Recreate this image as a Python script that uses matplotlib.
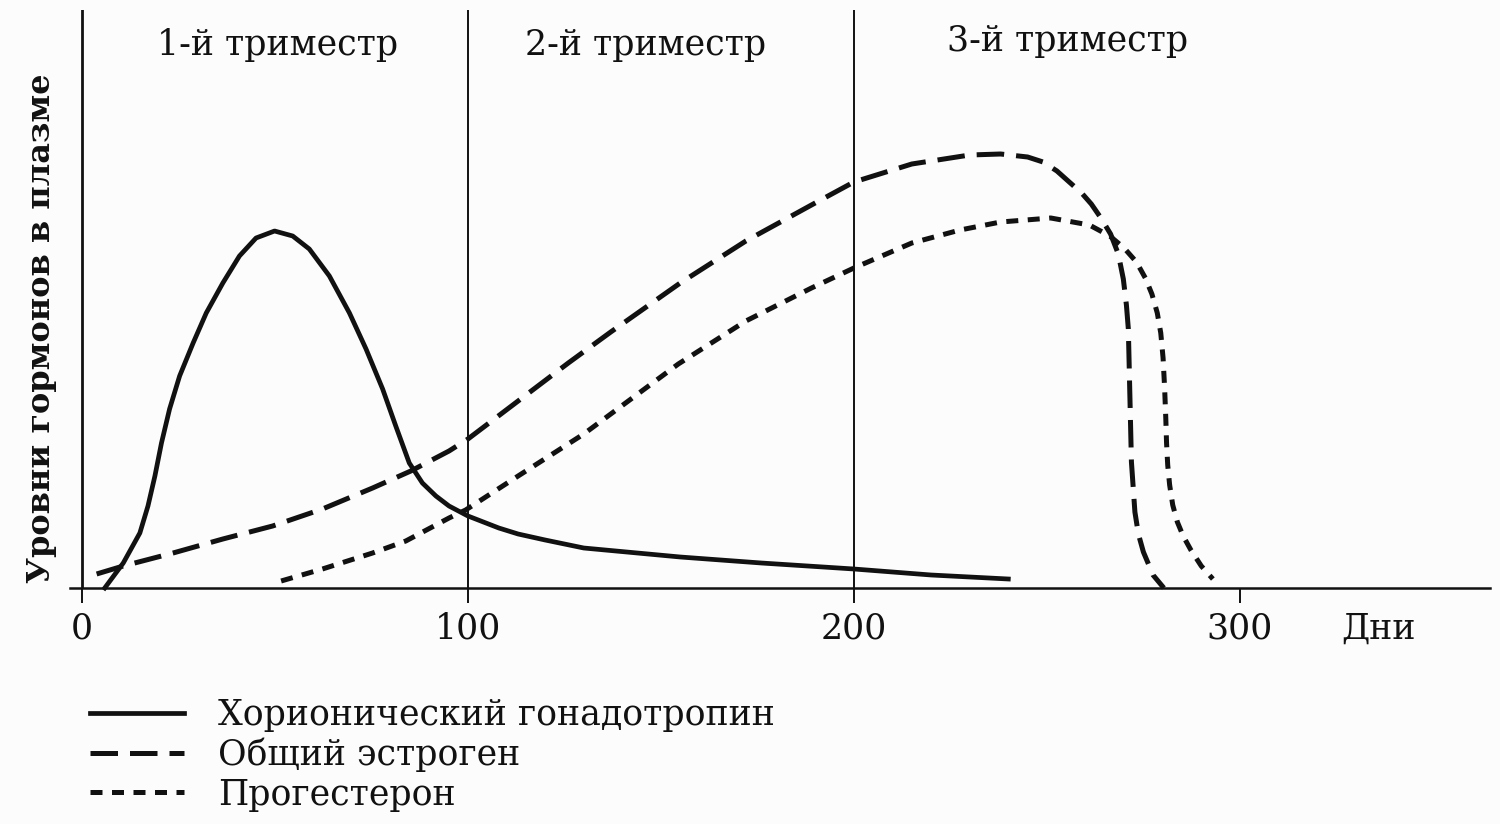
import matplotlib
matplotlib.use("Agg")
import matplotlib.pyplot as plt

# levels are in arbitrary units
days_hcg = [5.9, 10.7, 15.0, 17.1, 18.9, 20.6, 22.7, 25.3, 28.8, 32.2, 36.5, 40.8, 45.1,
            49.9, 54.6, 58.9, 64.1, 69.3, 73.6, 77.9, 81.3, 84.8, 88.2, 91.7, 95.1, 100,
            108, 113, 120, 130, 155, 176, 200, 220, 240]
level_hcg = [0, 2.5, 5.5, 8.2, 11.2, 14.5, 17.9, 21.2, 24.5, 27.5, 30.5, 33.2, 35.0,
             35.7, 35.2, 33.9, 31.2, 27.5, 23.9, 19.9, 16.2, 12.5, 10.5, 9.2, 8.2, 7.2,
             6.0, 5.4, 4.8, 4.0, 3.1, 2.5, 1.9, 1.3, 0.9]

days_estr = [3.8, 10.7, 23.6, 36.5, 49.4, 62.3, 75.3, 85.2, 95.1, 100, 113, 126, 137,
             155, 172, 189, 200, 215, 230, 238, 245, 249, 252.6, 255.5, 259, 261.5, 264,
             266.5, 268.5, 269.8, 270.6, 271.1, 271.5, 271.9, 272.8, 273.7, 275, 277.5,
             280.3]
level_estr = [1.4, 2.2, 3.5, 4.9, 6.2, 7.9, 10.0, 11.7, 13.7, 14.9, 18.7, 22.5, 25.6,
              30.5, 34.7, 38.3, 40.6, 42.4, 43.3, 43.4, 43.1, 42.6, 41.7, 40.7, 39.5,
              38.4, 37.0, 35.4, 33.4, 30.9, 28.3, 25.9, 19.2, 12.6, 7.6, 5.4, 3.6, 1.3, 0]

days_prog = [51.6, 62.3, 75.3, 83.9, 95.1, 99.4, 113, 130, 154.5, 172, 189, 200, 215,
             227.5, 238, 251, 261, 266.3, 270, 273.2, 275.5, 277.2, 278.6, 279.5, 280.1,
             280.5, 280.8, 281.0, 281.3, 281.8, 282.6, 283.8, 285.3, 287.3, 290, 293]
level_prog = [0.7, 1.9, 3.5, 4.7, 7.0, 7.8, 11.2, 15.4, 22.4, 26.7, 30.0, 32.0, 34.5,
              35.8, 36.6, 37.0, 36.3, 35.2, 34.0, 32.6, 31.0, 29.4, 27.5, 25.5, 23.0,
              20.0, 17.0, 14.5, 12.3, 10.3, 8.3, 6.6, 5.2, 3.8, 2.2, 0.9]

labels = ["Хорионический гонадотропин", "Общий эстроген", "Прогестерон"]
trimesters = ["1-й триместр", "2-й триместр", "3-й триместр"]
trimester_x = [50.8, 145.9, 255.4]
xticks = [0, 100, 200, 300]
xlabel = "Дни"

ink = "#111111"
plt.rcParams["font.family"] = ["DejaVu Serif"]

fig = plt.figure(figsize=(15, 8.24), dpi=100, facecolor="#fcfcfc")
ax = fig.add_axes([70 / 1500, (824 - 588) / 824, 1420 / 1500, 578 / 824])
ax.set_facecolor("#fcfcfc")

ax.set_xlim(-3.1, 364.8)
ax.set_ylim(0, 57.8)

l1, = ax.plot(days_hcg, level_hcg, color=ink, lw=3.4, linestyle="-",
              solid_joinstyle="round", clip_on=False, label=labels[0])
l2, = ax.plot(days_estr, level_estr, color=ink, lw=3.6, linestyle=(0, (5.5, 2.4)),
              dash_joinstyle="round", clip_on=False, label=labels[1])
l3, = ax.plot(days_prog, level_prog, color=ink, lw=3.6, linestyle=(0, (2.4, 1.9)),
              dash_joinstyle="round", clip_on=False, label=labels[2])

# trimester borders
for d in xticks[:3]:
    ax.axvline(d, color=ink, lw=2.0 if d == 0 else 1.4)

for i, (name, xc) in enumerate(zip(trimesters, trimester_x)):
    ax.text(xc, 0.947 if i == 2 else 0.94, name, transform=ax.get_xaxis_transform(),
            ha="center", va="center", fontsize=25, color=ink)

for s in ["top", "right", "left"]:
    ax.spines[s].set_visible(False)
ax.spines["bottom"].set_linewidth(1.8)
ax.spines["bottom"].set_color(ink)

ax.set_yticks([])
ax.set_xticks(xticks + [335.8])
ax.set_xticklabels([str(t) for t in xticks] + [xlabel])
ax.tick_params(axis="x", direction="out", length=11, width=1.4, colors=ink,
               labelsize=25, pad=6)
ax.xaxis.get_major_ticks()[-1].tick1line.set_visible(False)

ax.set_ylabel("Уровни гормонов в плазме", fontsize=23, fontweight="bold", color=ink)
ax.yaxis.set_label_coords(-0.009, 0.45)

fig.legend(handles=[l1, l2, l3], loc="upper left", bbox_to_anchor=(90 / 1500, 0.153),
           frameon=False, fontsize=25, handlelength=2.7, handletextpad=1.0,
           labelspacing=0.16, borderpad=0, borderaxespad=0, labelcolor=ink)

fig.savefig("out.png", dpi=100, facecolor=fig.get_facecolor())
